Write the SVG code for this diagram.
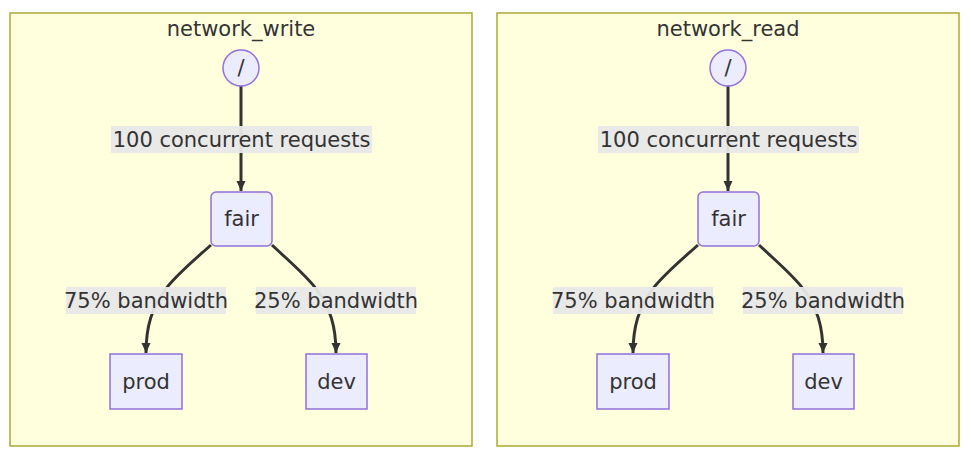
<svg xmlns="http://www.w3.org/2000/svg" width="972" height="462" viewBox="0 0 972 462">
<style>
text{font-family:"DejaVu Sans","Liberation Sans",sans-serif;font-size:21px;fill:#333;text-anchor:middle;dominant-baseline:central}
.cluster{fill:#ffffde;stroke:#aaaa33;stroke-width:1.5}
.node{fill:#ececff;stroke:#9370db;stroke-width:1.5}
.edge{fill:none;stroke:#333;stroke-width:3}
.lbl{fill:#e8e8e8;opacity:0.95}
</style>
<defs>
<marker id="arr" markerUnits="userSpaceOnUse" viewBox="0 0 10 10" refX="10" refY="5" markerWidth="10" markerHeight="10" orient="auto">
<path d="M0,0.5 L10,5 L0,9.5 z" fill="#333"/>
</marker>
</defs>

<g id="network_write">
<rect class="cluster" x="10" y="13" width="462" height="433"/>
<text x="241" y="29">network_write</text>
<g id="write-edges">
<path class="edge" d="M241,86 L241,191" marker-end="url(#arr)"/>
<path class="edge" d="M211,245 C192,262 175,276 165,290 C152,308 146,326 146,353" marker-end="url(#arr)"/>
<path class="edge" d="M272,245 C290,262 307,276 317,290 C330,308 336,326 336,353" marker-end="url(#arr)"/>
<rect class="lbl" x="111" y="126" width="261" height="27"/>
<text x="241.5" y="139.5">100 concurrent requests</text>
<rect class="lbl" x="66" y="287" width="160" height="27"/>
<text x="146" y="300.5">75% bandwidth</text>
<rect class="lbl" x="256" y="287" width="160" height="27"/>
<text x="336" y="300.5">25% bandwidth</text>
</g>
<g id="write-root"><circle class="node" cx="241" cy="68" r="18"/><text x="241" y="68">/</text></g>
<g id="write-fair"><rect class="node" x="211" y="192" width="61" height="54" rx="5"/><text x="241.5" y="219">fair</text></g>
<g id="write-prod"><rect class="node" x="110" y="354" width="72" height="55"/><text x="146" y="381.5">prod</text></g>
<g id="write-dev"><rect class="node" x="306" y="354" width="61" height="55"/><text x="336.5" y="381.5">dev</text></g>
</g>

<g id="network_read">
<rect class="cluster" x="497" y="13" width="462" height="433"/>
<text x="728" y="29">network_read</text>
<g id="read-edges">
<path class="edge" d="M728,86 L728,191" marker-end="url(#arr)"/>
<path class="edge" d="M698,245 C679,262 662,276 652,290 C639,308 633,326 633,353" marker-end="url(#arr)"/>
<path class="edge" d="M759,245 C777,262 794,276 804,290 C817,308 823,326 823,353" marker-end="url(#arr)"/>
<rect class="lbl" x="598" y="126" width="261" height="27"/>
<text x="728.5" y="139.5">100 concurrent requests</text>
<rect class="lbl" x="553" y="287" width="160" height="27"/>
<text x="633" y="300.5">75% bandwidth</text>
<rect class="lbl" x="743" y="287" width="160" height="27"/>
<text x="823" y="300.5">25% bandwidth</text>
</g>
<g id="read-root"><circle class="node" cx="728" cy="68" r="18"/><text x="728" y="68">/</text></g>
<g id="read-fair"><rect class="node" x="698" y="192" width="61" height="54" rx="5"/><text x="728.5" y="219">fair</text></g>
<g id="read-prod"><rect class="node" x="597" y="354" width="72" height="55"/><text x="633" y="381.5">prod</text></g>
<g id="read-dev"><rect class="node" x="793" y="354" width="61" height="55"/><text x="823.5" y="381.5">dev</text></g>
</g>
</svg>
